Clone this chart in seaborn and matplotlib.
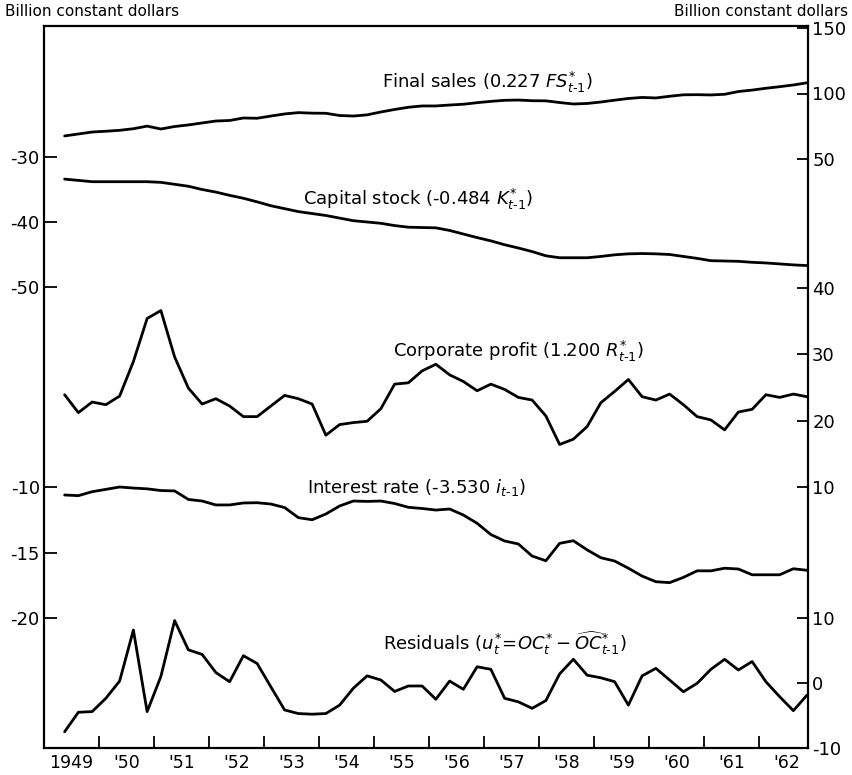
import numpy as np
import pandas as pd
import matplotlib
matplotlib.use("Agg")
import matplotlib.pyplot as plt
import seaborn as sns
from matplotlib.ticker import FixedLocator, FixedFormatter, NullFormatter

# ---------------- data (quarterly, 1949Q2 - 1962Q4) ----------------
start_year, start_q = 1949, 2
n_q = 55

final_sales = [67.6, 69.1, 70.6, 71.2, 71.9, 73.1, 75.1, 72.9, 74.8, 76.0,
               77.5, 79.0, 79.4, 81.3, 81.1, 82.8, 84.4, 85.4, 85.0, 84.9,
               83.2, 82.8, 83.7, 85.9, 87.8, 89.5, 90.5, 90.5, 91.2, 91.8,
               93.0, 94.0, 94.8, 95.0, 94.5, 94.4, 93.1, 92.0, 92.4, 93.5,
               94.9, 96.2, 97.0, 96.6, 97.9, 99.0, 99.1, 98.9, 99.4, 101.5,
               102.6, 104.0, 105.2, 106.5, 108.2]

capital_stock = [-33.4, -33.6, -33.8, -33.8, -33.8, -33.8, -33.8, -33.9, -34.2, -34.5,
                 -35.0, -35.4, -35.9, -36.35, -36.9, -37.5, -37.95, -38.4, -38.7, -39.0,
                 -39.4, -39.8, -40.0, -40.2, -40.55, -40.8, -40.85, -40.9, -41.3, -41.85,
                 -42.4, -42.9, -43.5, -44.0, -44.55, -45.2, -45.5, -45.5, -45.5, -45.3,
                 -45.05, -44.9, -44.85, -44.9, -45.0, -45.3, -45.6, -45.95, -46.0, -46.05,
                 -46.2, -46.3, -46.45, -46.6, -46.7]

corporate_profit = [23.9, 21.2, 22.8, 22.4, 23.7, 28.9, 35.4, 36.6, 29.6, 24.9,
                    22.5, 23.3, 22.2, 20.6, 20.6, 22.2, 23.8, 23.3, 22.5, 17.8,
                    19.4, 19.7, 19.9, 21.8, 25.5, 25.7, 27.5, 28.5, 26.9, 25.9,
                    24.5, 25.5, 24.7, 23.5, 23.1, 20.7, 16.4, 17.2, 19.1, 22.7,
                    24.4, 26.2, 23.6, 23.1, 24.0, 22.4, 20.6, 20.1, 18.6, 21.3,
                    21.7, 23.9, 23.5, 24.0, 23.6]

interest_rate = [-10.61, -10.66, -10.36, -10.18, -10.0, -10.08, -10.14, -10.27, -10.3, -10.95,
                 -11.07, -11.37, -11.37, -11.22, -11.2, -11.3, -11.57, -12.34, -12.5, -12.06,
                 -11.45, -11.07, -11.1, -11.07, -11.26, -11.55, -11.64, -11.76, -11.68, -12.14,
                 -12.77, -13.63, -14.12, -14.35, -15.27, -15.63, -14.3, -14.1, -14.8, -15.4,
                 -15.65, -16.2, -16.8, -17.23, -17.3, -16.9, -16.4, -16.4, -16.2, -16.26,
                 -16.7, -16.7, -16.7, -16.24, -16.36]

residuals = [-7.5, -4.5, -4.4, -2.35, 0.3, 8.15, -4.4, 1.0, 9.6, 5.1,
             4.4, 1.6, 0.2, 4.2, 3.0, -0.6, -4.15, -4.7, -4.8, -4.7,
             -3.4, -0.8, 1.1, 0.46, -1.3, -0.46, -0.46, -2.5, 0.3, -0.97,
             2.5, 2.1, -2.35, -2.9, -3.9, -2.7, 1.4, 3.65, 1.2, 0.8,
             0.2, -3.4, 1.1, 2.25, 0.46, -1.35, -0.05, 2.1, 3.65, 2.0,
             3.3, 0.2, -2.1, -4.26, -1.85]

series_names = ["final", "capital", "profit", "interest", "resid"]
series_values = [final_sales, capital_stock, corporate_profit, interest_rate, residuals]

series_labels = [r"Final sales (0.227 $FS^{*}_{t\text{-}1}$)",
                 r"Capital stock (-0.484 $K^{*}_{t\text{-}1}$)",
                 r"Corporate profit (1.200 $R^{*}_{t\text{-}1}$)",
                 r"Interest rate (-3.530 $i_{t\text{-}1}$)",
                 r"Residuals ($u^{*}_{t}\!=\!OC^{*}_{t}-\widehat{OC}^{*}_{t\text{-}1}$)"]

left_ticks = {"capital": [-30, -40, -50], "interest": [-10, -15, -20]}
right_ticks = {"final": [150, 100, 50], "profit": [40, 30, 20, 10], "resid": [10, 0, -10]}

year_labels = ["1949", "'50", "'51", "'52", "'53", "'54", "'55", "'56",
               "'57", "'58", "'59", "'60", "'61", "'62"]

# ---------------- layout (each series placed on a shared stacked scale) ----------------
W, H = 852, 775
AX_L, AX_R, AX_T, AX_B = 44, 808, 26, 748
# (reference value, reference pixel row, pixels per unit)
placement = {"final": (100, 93.5, 1.31),
             "capital": (-30, 157, 6.5),
             "profit": (40, 288, 6.63),
             "interest": (-10, 487, 13.1),
             "resid": (0, 683, 6.5)}
label_pos = {"final": (382, 82), "capital": (303, 199), "profit": (393, 351),
             "interest": (307, 487), "resid": (383, 643)}


def to_pos(name, v):
    rv, rp, ppu = placement[name]
    pix = rp + (rv - np.asarray(v, dtype=float)) * ppu
    return AX_B - pix


def px_to_data_x(px):
    return 1949 + (px - AX_L) / 55.0


def py_to_data_y(py):
    return AX_B - py


t = np.array([start_year + (start_q - 1 + i) / 4 + 0.125 for i in range(n_q)])

rows = []
for name, vals in zip(series_names, series_values):
    for ti, p in zip(t, to_pos(name, vals)):
        rows.append({"t": ti, "pos": p, "series": name})
df = pd.DataFrame(rows)

# ---------------- plot ----------------
sns.set_theme(style="white")
plt.rcParams["font.family"] = ["DejaVu Sans"]
plt.rcParams["mathtext.fontset"] = "dejavusans"

fig = plt.figure(figsize=(W / 100, H / 100), dpi=100)
ax = fig.add_axes([AX_L / W, 1 - AX_B / H, (AX_R - AX_L) / W, (AX_B - AX_T) / H])

for name in series_names:
    sns.lineplot(data=df[df["series"] == name], x="t", y="pos", ax=ax,
                 color="black", linewidth=2.0, estimator=None, legend=False)

ax.set_xlim(1949, px_to_data_x(AX_R))
ax.set_ylim(0, AX_B - AX_T)
ax.set_xlabel("")
ax.set_ylabel("")

for s in ax.spines.values():
    s.set_color("black")
    s.set_linewidth(1.6)

# x ticks: year boundaries (inward), labels at year midpoints
ax.xaxis.set_major_locator(FixedLocator(np.arange(1950, 1963)))
ax.xaxis.set_major_formatter(NullFormatter())
ax.xaxis.set_minor_locator(FixedLocator(np.arange(1949, 1963) + 0.5))
ax.xaxis.set_minor_formatter(FixedFormatter(year_labels))
ax.tick_params(axis="x", which="major", direction="in", length=9, width=1.3,
               color="black", bottom=True)
ax.tick_params(axis="x", which="minor", length=0, labelsize=12.5, pad=4,
               labelcolor="black", bottom=True)

# left ticks
lpos, llab = [], []
for name, tv in left_ticks.items():
    for v in tv:
        lpos.append(float(to_pos(name, v)))
        llab.append(f"{v}")
ax.yaxis.set_major_locator(FixedLocator(lpos))
ax.yaxis.set_major_formatter(FixedFormatter(llab))
ax.tick_params(axis="y", which="major", direction="in", length=9, width=1.3,
               color="black", left=True, labelsize=13, pad=3, labelcolor="black")

# right ticks
ax2 = ax.twinx()
ax2.set_ylim(ax.get_ylim())
rpos, rlab = [], []
for name, tv in right_ticks.items():
    for v in tv:
        rpos.append(float(to_pos(name, v)))
        rlab.append(f"{v}")
ax2.yaxis.set_major_locator(FixedLocator(rpos))
ax2.yaxis.set_major_formatter(FixedFormatter(rlab))
ax2.tick_params(axis="y", which="major", direction="in", length=8, width=1.3,
                color="black", right=True, labelsize=13, pad=3, labelcolor="black")
for s in ax2.spines.values():
    s.set_visible(False)
ax2.grid(False)
ax.grid(False)

# series labels
for name, lab in zip(series_names, series_labels):
    px, py = label_pos[name]
    ax.text(px_to_data_x(px), py_to_data_y(py), lab, fontsize=13,
            ha="left", va="center", color="black")

fig.text(5 / W, 1 - 12 / H, "Billion constant dollars", fontsize=11,
         ha="left", va="center", color="black")
fig.text(848 / W, 1 - 12 / H, "Billion constant dollars", fontsize=11,
         ha="right", va="center", color="black")

fig.savefig("out.png", dpi=100)
